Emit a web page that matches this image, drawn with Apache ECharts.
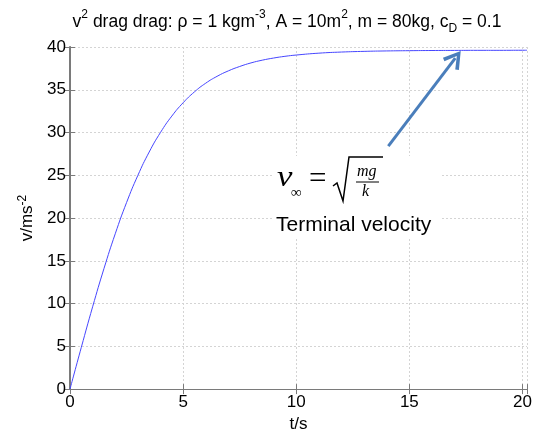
<!DOCTYPE html>
<html>
<head>
<meta charset="utf-8">
<script src="https://cdn.jsdelivr.net/npm/echarts@6/dist/echarts.min.js"></script>
<style>
  html, body { margin: 0; padding: 0; background: #fff; }
  #chart { width: 544px; height: 438px; }
</style>
</head>
<body>
<div id="chart"></div>
<script>
// speed, t in seconds
const times  = [0, 0.5, 1, 1.5, 2, 2.5, 3, 3.5, 4, 4.5, 5, 5.5, 6, 6.5, 7, 7.5, 8, 8.5, 9, 9.5, 10,
                11, 12, 13, 14, 15, 16, 17, 18, 19, 20, 20.2];
const speeds = [0, 4.88, 9.62, 14.08, 18.16, 21.81, 24.99, 27.72, 30.01, 31.92, 33.48, 34.75, 35.77,
                36.57, 37.21, 37.72, 38.14, 38.46, 38.71, 38.91, 39.06,
                39.28, 39.41, 39.49, 39.54, 39.57, 39.59, 39.60, 39.61, 39.61, 39.62, 39.62];
const xTicks = [0, 5, 10, 15, 20];
const yTicks = [0, 5, 10, 15, 20, 25, 30, 35, 40];
// annotation arrow, in data units: from the formula up to the plateau
const arrowFrom = [14.07, 28.4];
const arrowTo   = [17.03, 38.7];

const chart = echarts.init(document.getElementById('chart'));
const font = 'Liberation Sans, Arial, sans-serif';
const serif = 'Liberation Serif, Times New Roman, serif';
const frame = '#7a7a7a';

const data = times.map(function(t, i) { return [t, speeds[i]]; });

function tickFmt(list) {
  return function(v) { return list.indexOf(v) >= 0 ? String(v) : ''; };
}

const option = {
  animation: false,
  title: {
    text: '{n|v}{sup|2}{n| drag drag: ρ = 1 kgm}{sup|-3}{n|, A = 10m}{sup|2}{n|, m = 80kg, c}{sub|D}{n| = 0.1}',
    left: 282,
    textAlign: 'center',
    top: 4,
    textStyle: {
      fontWeight: 'normal',
      rich: {
        n:   { fontFamily: font, fontSize: 17.5, fontWeight: 'normal', color: '#000', lineHeight: 26 },
        sup: { fontFamily: font, fontSize: 12, fontWeight: 'normal', color: '#000', verticalAlign: 'top', lineHeight: 26 },
        sub: { fontFamily: font, fontSize: 12, fontWeight: 'normal', color: '#000', verticalAlign: 'bottom', lineHeight: 26 }
      }
    }
  },
  grid: { left: 70, right: 17, top: 47, bottom: 42 },
  xAxis: [{
    type: 'value', min: 0, max: 20.2, interval: 5,
    name: 't/s', nameLocation: 'middle', nameGap: 23,
    nameTextStyle: { fontFamily: font, fontSize: 17, color: '#000' },
    axisLine: { lineStyle: { color: frame } },
    axisTick: { inside: true, length: 5, lineStyle: { color: frame } },
    axisLabel: { formatter: tickFmt(xTicks), fontFamily: font, fontSize: 17, color: '#000', margin: 5 },
    splitLine: { lineStyle: { color: '#d4d4d4', type: [2, 2] } }
  }, {
    type: 'value', position: 'top', min: 0, max: 20.2, interval: 5,
    axisLine: { show: true, lineStyle: { color: frame } },
    axisTick: { inside: true, length: 5, lineStyle: { color: frame } },
    axisLabel: { show: false },
    splitLine: { show: false }
  }],
  yAxis: [{
    type: 'value', min: 0, max: 40, interval: 5,
    name: '{a|v/ms}{s|-2}', nameLocation: 'middle', nameGap: 31,
    nameTextStyle: {
      rich: {
        a: { fontFamily: font, fontSize: 17, color: '#000', lineHeight: 22 },
        s: { fontFamily: font, fontSize: 12, color: '#000', verticalAlign: 'top', lineHeight: 22 }
      }
    },
    axisLine: { show: true, lineStyle: { color: frame } },
    axisTick: { inside: true, length: 5, lineStyle: { color: frame } },
    axisLabel: { formatter: tickFmt(yTicks), fontFamily: font, fontSize: 17, color: '#000', margin: 4 },
    splitLine: { lineStyle: { color: '#d4d4d4', type: [2, 2] } }
  }, {
    type: 'value', position: 'right', min: 0, max: 40, interval: 5,
    axisLine: { show: true, lineStyle: { color: frame, width: 2 } },
    axisTick: { inside: true, length: 5, lineStyle: { color: frame } },
    axisLabel: { show: false },
    splitLine: { show: false }
  }],
  series: [{
    type: 'line',
    data: data,
    showSymbol: false,
    smooth: true,
    lineStyle: { color: '#4646ff', width: 1 },
    markLine: {
      silent: true,
      symbol: ['none', 'path://M5,0 L10,9 L8.4,10 L5,3.6 L1.6,10 L0,9 Z'],
      symbolSize: [20, 18],
      label: { show: false },
      lineStyle: { color: '#4a7ebb', width: 3, type: 'solid' },
      data: [[{ coord: arrowFrom }, { coord: arrowTo }]]
    }
  }],
  graphic: [
    { type: 'rect', shape: { x: 272, y: 156, width: 168, height: 82 }, style: { fill: '#fff' }, z: 10 },
    { type: 'text', x: 277, y: 164, scaleX: 1.2, z: 11, style: { text: 'v', font: 'italic 29px ' + serif, fill: '#000' } },
    { type: 'text', left: 291, top: 186, z: 11, style: { text: '∞', font: '15px ' + serif, fill: '#000' } },
    { type: 'text', left: 309, top: 164, z: 11, style: { text: '=', font: '31px ' + serif, fill: '#000' } },
    { type: 'polyline', z: 11, shape: { points: [[333, 186], [337, 183], [343, 201], [349, 157], [383, 157]] },
      style: { stroke: '#000', lineWidth: 1.5, fill: null } },
    { type: 'text', left: 357, top: 164, z: 11, style: { text: 'mg', font: 'italic 16px ' + serif, fill: '#000' } },
    { type: 'line', z: 11, shape: { x1: 356, y1: 182, x2: 379, y2: 182 }, style: { stroke: '#000', lineWidth: 1 } },
    { type: 'text', left: 362, top: 184, z: 11, style: { text: 'k', font: 'italic 16px ' + serif, fill: '#000' } },
    { type: 'text', left: 276, top: 215, z: 11, style: { text: 'Terminal velocity', font: '21px ' + font, fill: '#000' } }
  ]
};

chart.setOption(option);
</script>
</body>
</html>
